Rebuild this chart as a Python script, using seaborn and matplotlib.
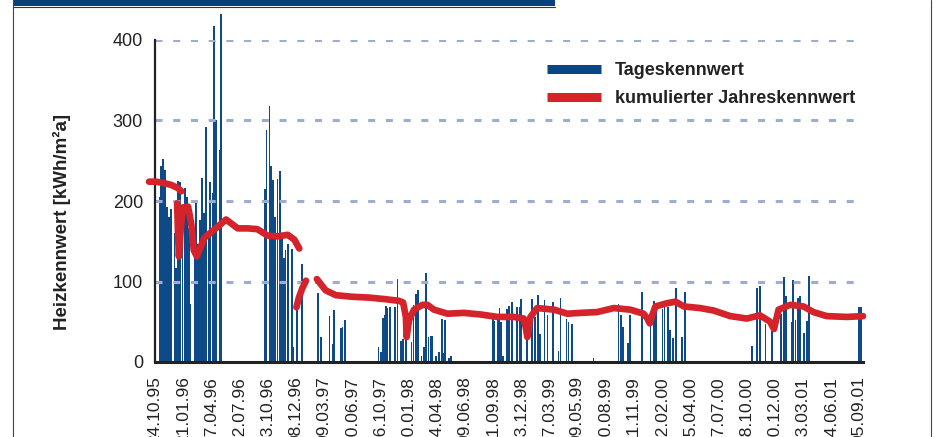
import matplotlib
matplotlib.use("Agg")
import matplotlib.pyplot as plt
from matplotlib.lines import Line2D
from matplotlib.patches import Rectangle
import pandas as pd
import seaborn as sns

sns.set_theme(style="white")
plt.rcParams["font.family"] = ["Liberation Sans", "DejaVu Sans"]

# x axis: record number, one label every 80 records
tick_step = 80
tick_labels = [
    "24.10.95", "21.01.96", "17.04.96", "12.07.96", "13.10.96", "08.12.96",
    "09.03.97", "10.06.97", "16.10.97", "10.01.98", "14.04.98", "09.06.98",
    "11.09.98", "13.12.98", "17.03.99", "09.05.99", "10.08.99", "11.11.99",
    "12.02.00", "15.04.00", "17.07.00", "18.10.00", "10.12.00", "13.03.01",
    "14.06.01", "05.09.01",
]

# daily values (Tageskennwert)
bar_day = [
    14, 18, 23, 29, 35, 40, 46, 55, 60, 65, 71, 78, 85, 90, 96, 101, 112, 117, 122, 128, 134, 140,
    145, 152, 157, 163, 167, 174, 183, 187,
    312, 317, 325, 330, 336, 341, 348, 355, 361, 366, 371, 377, 389, 393, 403, 417,
    464, 471, 496, 504, 509, 528, 533, 540,
    635, 642, 647, 652, 656, 661, 667, 683, 689, 700, 705, 713, 729, 735, 742, 747, 757, 764, 770,
    777, 783, 787, 798, 808, 816, 820, 825, 836, 842,
    960, 965, 974, 979, 983, 989, 1000, 1006, 1014, 1028, 1036, 1041, 1058, 1072, 1079, 1089, 1094,
    1107, 1115, 1132, 1147, 1152, 1169, 1175, 1185,
    1246, 1317, 1324, 1330, 1344, 1350, 1383, 1408, 1418, 1423, 1442, 1448, 1457, 1463, 1473, 1480,
    1498, 1507,
    1696, 1711, 1719, 1735, 1754, 1778, 1788, 1794, 1810, 1814, 1820, 1827, 1833, 1845, 1853, 1859,
    2001, 2007,
]
bar_value = [
    205, 243, 252, 239, 192, 180, 190, 160, 117, 225, 223, 190, 216, 205, 167, 72, 150, 200, 147, 176,
    229, 185, 292, 160, 223, 210, 418, 301, 263, 432,
    215, 288, 318, 243, 226, 180, 227, 237, 160, 129, 139, 146, 140, 19, 81, 122,
    86, 31, 57, 22, 64, 42, 43, 52,
    19, 12, 55, 58, 69, 67, 68, 68, 103, 26, 28, 33, 25, 71, 84, 90, 7, 19, 111,
    31, 32, 32, 7, 12, 53, 11, 52, 5, 7,
    53, 51, 52, 67, 50, 7, 66, 70, 75, 68, 68, 78, 40, 78, 56, 83, 35,
    77, 58, 75, 14, 80, 53, 50, 47,
    5, 72, 58, 43, 24, 58, 87, 47, 76, 68, 66, 68, 68, 40, 30, 92,
    31, 87,
    20, 92, 94, 47, 38, 60, 105, 82, 50, 102, 52, 79, 82, 36, 51, 107,
    68, 68,
]

# cumulative yearly value (kumulierter Jahreskennwert), drawn in pieces
line_day = [
    -17, 3, 27, 46, 65, 75,
    63, 65, 68, 73, 79, 94, 103, 110, 119, 140, 178, 202, 235, 264, 291, 320, 348, 377, 396, 410,
    402, 409, 418, 429,
    460, 485, 514, 561, 609, 655, 693, 705, 713, 715, 722, 736, 760, 774, 793, 831, 878, 926, 973,
    1019, 1048, 1054, 1058, 1063, 1067, 1086, 1134, 1172, 1209, 1256, 1304, 1351, 1388, 1398, 1406,
    1413, 1422, 1455, 1479, 1503, 1549, 1587, 1635, 1682, 1719, 1748, 1759, 1772, 1805, 1843, 1871,
    1909, 1966, 2012,
]
line_value = [
    224, 224, 222, 220, 216, 212,
    197, 164, 131, 164, 192, 193, 172, 139, 131, 154, 168, 177, 166, 166, 165, 157, 156, 158, 152, 141,
    68, 80, 91, 101,
    103, 89, 83, 81, 80, 78, 76, 74, 56, 31, 52, 65, 71, 71, 65, 60, 61, 59, 56,
    56, 54, 42, 31, 45, 56, 67, 65, 60, 61, 62, 67, 65, 60, 55, 48,
    58, 69, 73, 75, 69, 67, 64, 57, 54, 58, 50, 41, 65, 71, 69, 62,
    57, 56, 57,
]
line_piece = [0] * 6 + [1] * 20 + [2] * 4 + [3] * 54

blue = "#0f4a88"
red = "#d4232b"

fig = plt.figure(figsize=(9.36, 4.37), dpi=100)
ax = fig.add_axes([155 / 936, 1 - 362 / 437, (863 - 155) / 936, (362 - 40) / 437])

# dashed grid
for y in [100, 200, 300, 400]:
    ax.axhline(y, xmin=0, xmax=0.992, color="#9dadd0", lw=2.2,
               ls=(0, (2.3, 3.5)), zorder=2.5)

ax.bar(bar_day, bar_value, width=4.8, color=blue, linewidth=0, clip_on=False, zorder=2)

df = pd.DataFrame({"day": line_day, "value": line_value, "piece": line_piece})
sns.lineplot(data=df, x="day", y="value", units="piece", estimator=None, sort=False,
             color=red, lw=4.8, ax=ax, legend=False, zorder=3)
for ln in ax.lines:
    if ln.get_linewidth() > 4:
        ln.set_clip_on(False)
        ln.set_solid_capstyle("round")
        ln.set_solid_joinstyle("round")

ax.set_xlim(3.4, 2012)
ax.set_ylim(0, 400)
ax.set_xticks([i * tick_step for i in range(len(tick_labels))])
ax.set_xticklabels(tick_labels, rotation=90, va="top")
ax.set_yticks([0, 100, 200, 300, 400])
ax.tick_params(axis="y", length=0, pad=8.6, labelsize=13, labelcolor="#222222")
ax.tick_params(axis="x", length=0, pad=10, labelsize=12.5, labelcolor="#222222")
ax.set_xlabel("")
ax.set_ylabel("Heizkennwert [kWh/m²a]", fontsize=13.5, fontweight="bold", color="#222222")
ax.yaxis.set_label_coords(-0.119, 0.434)

for side in ["top", "right"]:
    ax.spines[side].set_visible(False)
ax.spines["left"].set_color("#222222")
ax.spines["left"].set_linewidth(1.6)
ax.spines["bottom"].set_color("#222222")
ax.spines["bottom"].set_linewidth(2.2)
ax.grid(False)

handles = [
    Line2D([], [], color="#0b4582", lw=6.5, solid_capstyle="butt"),
    Line2D([], [], color=red, lw=6.5, solid_capstyle="butt"),
]
fig.legend(handles, ["Tageskennwert", "kumulierter Jahreskennwert"],
           loc="upper left", bbox_to_anchor=(547 / 936, 1 - 62 / 437),
           frameon=False, borderpad=0, borderaxespad=0, handlelength=3.0,
           handletextpad=0.75, labelspacing=0.6,
           prop={"size": 13, "weight": "bold"}, labelcolor="#222222")

# page frame and title strip
fig.add_artist(Rectangle((13 / 936, 1 - 6 / 437), (555 - 13) / 936, 6 / 437,
                         transform=fig.transFigure, color="#0b3f7c", lw=0))
fig.add_artist(Line2D([13 / 936, 555 / 936], [1 - 6.5 / 437] * 2,
                      transform=fig.transFigure, color="#333333", lw=0.8))
fig.add_artist(Line2D([13 / 936] * 2, [0, 1], transform=fig.transFigure,
                      color="#444444", lw=0.8))
fig.add_artist(Line2D([931 / 936] * 2, [0, 1], transform=fig.transFigure,
                      color="#444444", lw=0.8))

fig.savefig("out.png", dpi=100)
